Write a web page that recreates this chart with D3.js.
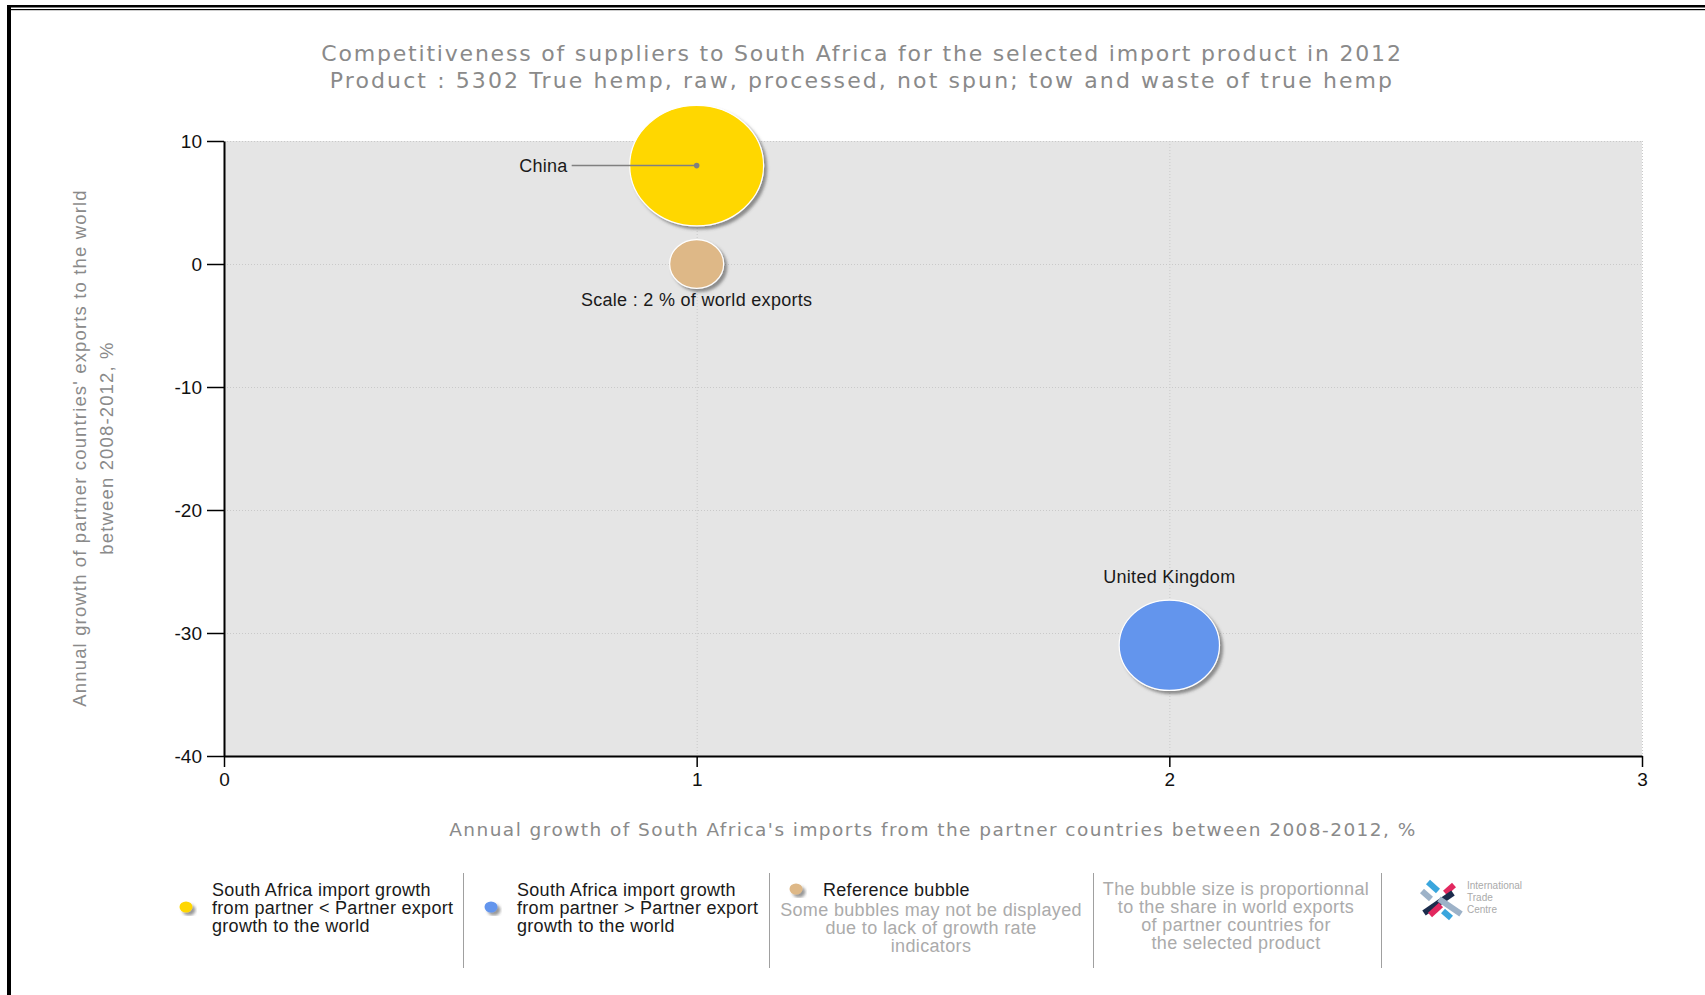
<!DOCTYPE html>
<html>
<head>
<meta charset="utf-8">
<script src="https://d3js.org/d3.v7.min.js"></script>
<style>
  body { margin: 0; background: #fff; }
  svg text { font-family: "Liberation Sans", Arial, sans-serif; }
  .ttl { font-family: "DejaVu Sans", Verdana, sans-serif; fill: #8a8a8a; }
  .axis path, .axis line { stroke: #000; }
  .lbl { font-size: 18px; fill: #1a1a1a; letter-spacing: 0.3px; }
  .note { font-size: 18px; fill: #ababab; letter-spacing: 0.35px; }
</style>
</head>
<body>
<svg id="chart" width="1705" height="995"></svg>
<script>
// suppliers
var countries = ["China", "United Kingdom"];
var importGrowth = [1, 2];        // x : SA imports growth 2008-2012, %
var exportGrowth = [8, -31];      // y : partner export growth 2008-2012, %
var worldShare = [12.3, 6.9];     // bubble size, % of world exports
var bubbleColor = ["#FFD700", "#6495ED"];

// reference bubble
var refX = [1], refY = [0], refShare = [2];

var xTicks = [0, 1, 2, 3];
var yTicks = [10, 0, -10, -20, -30, -40];

var svg = d3.select("#chart");

// page frame
svg.append("rect").attr("x", 7).attr("y", 5).attr("width", 1698).attr("height", 2.5).attr("fill", "#000");
svg.append("rect").attr("x", 11).attr("y", 9).attr("width", 1694).attr("height", 1.2).attr("fill", "#000");
svg.append("rect").attr("x", 7).attr("y", 5).attr("width", 4).attr("height", 990).attr("fill", "#000");

var defs = svg.append("defs");
var f = defs.append("filter").attr("id", "shadow")
    .attr("x", "-20%").attr("y", "-20%").attr("width", "150%").attr("height", "150%");
f.append("feDropShadow").attr("dx", 3).attr("dy", 3).attr("stdDeviation", 1.6)
    .attr("flood-color", "#444").attr("flood-opacity", 0.55);

var x = d3.scaleLinear().domain([0, 3]).range([224, 1642]);
var y = d3.scaleLinear().domain([-40, 10]).range([756, 141]);
var r = d3.scaleSqrt().domain([0, 2]).range([0, 27]);
var squash = 0.9; // bubbles are drawn slightly wider than tall

// titles
var title = svg.append("text").attr("class", "ttl").attr("text-anchor", "middle")
    .style("font-size", "22px");
title.append("tspan").attr("x", 862).attr("y", 61).style("letter-spacing", "1.8px")
    .text("Competitiveness of suppliers to South Africa for the selected import product in 2012");
title.append("tspan").attr("x", 862).attr("y", 88).style("letter-spacing", "2.1px")
    .text("Product : 5302 True hemp, raw, processed, not spun; tow and waste of true hemp");

// plot background
svg.append("rect")
    .attr("x", x(0)).attr("y", y(10))
    .attr("width", x(3) - x(0)).attr("height", y(-40) - y(10))
    .attr("fill", "#e5e5e5");

// grid
var grid = svg.append("g").attr("stroke", "#c9c9c9").attr("stroke-dasharray", "1,2").attr("stroke-width", 1);
grid.selectAll(".gy").data(yTicks.filter(function (d) { return d > -40; })).enter().append("line")
    .attr("x1", x(0)).attr("x2", x(3))
    .attr("y1", function (d) { return y(d) + 0.5; }).attr("y2", function (d) { return y(d) + 0.5; });
grid.selectAll(".gx").data(xTicks.filter(function (d) { return d > 0; })).enter().append("line")
    .attr("y1", y(10)).attr("y2", y(-40))
    .attr("x1", function (d) { return x(d) + 0.5; }).attr("x2", function (d) { return x(d) + 0.5; });

// axes
var fmt = function (d) { return String(d); };
var gy = svg.append("g").attr("class", "axis").attr("transform", "translate(" + x(0) + ",0)")
    .call(d3.axisLeft(y).tickValues(yTicks).tickFormat(fmt).tickSize(17).tickSizeOuter(0).tickPadding(5));
var gx = svg.append("g").attr("class", "axis").attr("transform", "translate(0," + y(-40) + ")")
    .call(d3.axisBottom(x).tickValues(xTicks).tickFormat(fmt).tickSize(11).tickSizeOuter(0).tickPadding(6));
gy.select(".domain").attr("stroke-width", 2);
gx.select(".domain").attr("stroke-width", 2);
gy.selectAll(".tick line").attr("stroke-width", 1.5);
gx.selectAll(".tick line").attr("stroke-width", 1.5);
svg.selectAll(".axis text").attr("font-family", "Liberation Sans, Arial, sans-serif")
    .attr("font-size", 19).attr("fill", "#111");

// axis titles
svg.append("text").attr("class", "ttl").attr("text-anchor", "middle")
    .style("font-size", "18.5px").style("letter-spacing", "1.45px")
    .attr("x", 933).attr("y", 836)
    .text("Annual growth of South Africa's imports from the partner countries between 2008-2012, %");
var yt = svg.append("g").attr("fill", "#8a8a8a").attr("font-size", 18.5)
    .attr("text-anchor", "middle").style("letter-spacing", "1.15px");
yt.append("text").attr("transform", "translate(86,448) rotate(-90)")
    .text("Annual growth of partner countries' exports to the world");
yt.append("text").attr("transform", "translate(113,448) rotate(-90)")
    .text("between 2008-2012, %");

// bubbles
var data = countries.map(function (c, i) {
  return { name: c, x: importGrowth[i], y: exportGrowth[i], s: worldShare[i], color: bubbleColor[i] };
});
var ref = refX.map(function (d, i) { return { x: d, y: refY[i], s: refShare[i] }; });

var bub = svg.append("g");
bub.selectAll(".ref").data(ref).enter().append("ellipse")
    .attr("cx", function (d) { return x(d.x); })
    .attr("cy", function (d) { return y(d.y); })
    .attr("rx", function (d) { return r(d.s); })
    .attr("ry", function (d) { return r(d.s) * squash; })
    .attr("fill", "#DEB887").attr("stroke", "#fff").attr("stroke-width", 1.2)
    .attr("filter", "url(#shadow)");
bub.selectAll(".sup").data(data).enter().append("ellipse")
    .attr("cx", function (d) { return x(d.x); })
    .attr("cy", function (d) { return y(d.y); })
    .attr("rx", function (d) { return r(d.s); })
    .attr("ry", function (d) { return r(d.s) * squash; })
    .attr("fill", function (d) { return d.color; }).attr("stroke", "#fff").attr("stroke-width", 1.2)
    .attr("filter", "url(#shadow)");

// labels
var china = data[0], uk = data[1];
svg.append("line")
    .attr("x1", x(china.x) - 125).attr("x2", x(china.x))
    .attr("y1", y(china.y)).attr("y2", y(china.y))
    .attr("stroke", "#808080").attr("stroke-width", 1.5);
svg.append("circle").attr("cx", x(china.x)).attr("cy", y(china.y)).attr("r", 2.8).attr("fill", "#808080");
svg.append("text").attr("class", "lbl").attr("text-anchor", "end")
    .attr("x", x(china.x) - 129).attr("y", y(china.y) + 6).text(china.name);
svg.append("text").attr("class", "lbl").attr("text-anchor", "middle")
    .attr("x", x(uk.x)).attr("y", y(uk.y) - r(uk.s) * squash - 17).text(uk.name);
svg.append("text").attr("class", "lbl").attr("text-anchor", "middle")
    .attr("x", x(ref[0].x)).attr("y", y(ref[0].y) + r(ref[0].s) * squash + 18)
    .text("Scale : " + ref[0].s + " % of world exports");

// legend
var leg = svg.append("g");
[463, 769, 1093, 1381].forEach(function (sx) {
  leg.append("line").attr("x1", sx + 0.5).attr("x2", sx + 0.5).attr("y1", 873).attr("y2", 968)
      .attr("stroke", "#a0a0a0").attr("stroke-width", 1);
});
function dot(cx, cy, color) {
  leg.append("ellipse").attr("cx", cx).attr("cy", cy).attr("rx", 6.5).attr("ry", 5.5)
      .attr("fill", color).attr("filter", "url(#shadow)");
}
function lines(x0, y0, arr, cls, anchor) {
  var t = leg.append("text").attr("class", cls).attr("text-anchor", anchor);
  arr.forEach(function (s, i) {
    t.append("tspan").attr("x", x0).attr("y", y0 + i * 18).text(s);
  });
}
dot(186, 907, bubbleColor[0]);
lines(212, 896, ["South Africa import growth", "from partner < Partner export", "growth to the world"], "lbl", "start");
dot(491, 907, bubbleColor[1]);
lines(517, 896, ["South Africa import growth", "from partner > Partner export", "growth to the world"], "lbl", "start");
dot(796, 889, "#DEB887");
lines(823, 896, ["Reference bubble"], "lbl", "start");
lines(931, 916, ["Some bubbles may not be displayed", "due to lack of growth rate", "indicators"], "note", "middle");
lines(1236, 895, ["The bubble size is proportionnal", "to the share in world exports", "of partner countries for", "the selected product"], "note", "middle");

// ITC logo
var logo = svg.append("g").attr("transform", "translate(1420,880)").attr("stroke-width", 6);
[
  [8, 2, 18, 11, "#3aa6dd"],
  [25, 13, 34, 5, "#e2285f"],
  [2, 11, 11, 19, "#9db2c8"],
  [4, 33, 33, 13, "#1c2c4c"],
  [19, 19, 41, 34, "#9db2c8"],
  [10, 35, 21, 25, "#e2285f"],
  [23, 31, 31, 38, "#3aa6dd"]
].forEach(function (b) {
  logo.append("line").attr("x1", b[0]).attr("y1", b[1]).attr("x2", b[2]).attr("y2", b[3]).attr("stroke", b[4]);
});
var lt = svg.append("text").attr("font-family", "Liberation Serif, serif").attr("font-size", 10).attr("fill", "#aaa");
["International", "Trade", "Centre"].forEach(function (s, i) {
  lt.append("tspan").attr("x", 1467).attr("y", 889 + i * 12).text(s);
});
</script>
</body>
</html>
